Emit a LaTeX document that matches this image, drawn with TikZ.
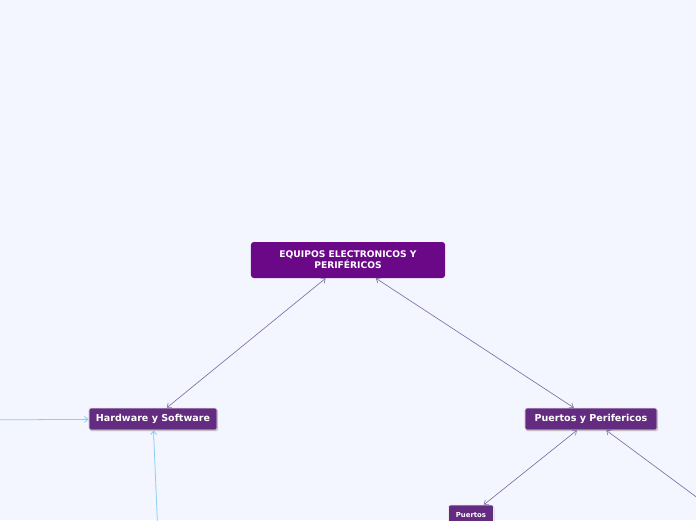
\documentclass[tikz,border=0pt]{standalone}
\usepackage{fontspec}
\setmainfont{DejaVu Sans}
\usetikzlibrary{arrows.meta,shadows}
\definecolor{canvas}{RGB}{243,245,255}
\definecolor{rootpurple}{RGB}{106,8,136}
\definecolor{topicpurple}{RGB}{100,44,128}
\definecolor{linkgray}{RGB}{128,108,160}
\definecolor{linkblue}{RGB}{140,205,240}

\begin{document}
\begin{tikzpicture}[
    x=0.025cm, y=-0.025cm,
    root/.style={rectangle, rounded corners=2pt, fill=rootpurple, text=white, minimum width=4.85cm, minimum height=0.9cm, font=\bfseries\fontsize{6.5}{7.9}\selectfont, align=center},
    topic/.style={rectangle, rounded corners=1.5pt, fill=topicpurple, text=white, draw=white!85!gray, line width=0.4pt, minimum height=0.55cm, font=\bfseries\fontsize{6.8}{8}\selectfont, drop shadow={shadow xshift=0.6pt, shadow yshift=-0.8pt, fill=gray!55, opacity=1}},
    subtopic/.style={topic, minimum width=1.125cm, minimum height=0.5cm, font=\bfseries\fontsize{4.9}{6}\selectfont},
    link/.style={{Straight Barb[length=2.6pt,width=4.2pt]}-{Straight Barb[length=2.6pt,width=4.2pt]}, linkgray, line width=0.45pt},
    feed/.style={-{Straight Barb[length=2.6pt,width=4.2pt]}, linkblue, line width=0.55pt}
]
    % Canvas
    \fill[canvas] (0,0) rectangle (696,520);
    \useasboundingbox (0,0) rectangle (696,520);

    % Root
    \node[root] (equipos) at (348,260) {EQUIPOS ELECTRONICOS Y\\PERIFÉRICOS};

    % Main topics
    \node[topic, minimum width=3.2cm] (hard) at (153,419) {Hardware y Software};
    \node[topic, minimum width=3.3cm] (puertper) at (591,419) {Puertos y Perifericos};

    % Sub topics
    \node[subtopic] (puertos) at (471,515) {Puertos};
    \coordinate (perif) at (722,516);

    % Free ends outside the view
    \coordinate (leftin) at (-30,420);
    \coordinate (downin) at (159,560);

    % Edges
    \draw[link] (equipos) -- (hard);
    \draw[link] (equipos) -- (puertper);
    \draw[link] (puertper) -- (puertos);
    \draw[link] (puertper) -- (perif);
    \draw[feed] (leftin) -- (hard);
    \draw[feed] (downin) -- (hard);
\end{tikzpicture}
\end{document}
